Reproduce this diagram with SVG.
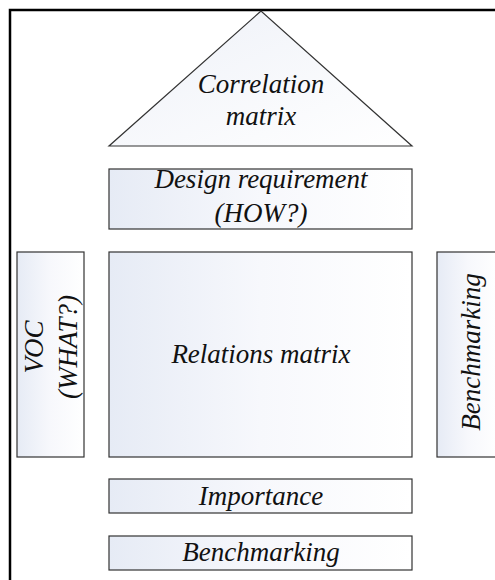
<svg xmlns="http://www.w3.org/2000/svg" width="495" height="580" viewBox="0 0 495 580">
<defs>
<linearGradient id="g" x1="0" y1="0" x2="1" y2="0">
<stop offset="0" stop-color="#e6ebf5"/>
<stop offset="0.5" stop-color="#f7f8fc"/>
<stop offset="1" stop-color="#ffffff"/>
</linearGradient>
<linearGradient id="gt" x1="0" y1="0" x2="1" y2="1">
<stop offset="0" stop-color="#eef1f8"/>
<stop offset="1" stop-color="#ffffff"/>
</linearGradient>
</defs>
<style>
.box{fill:url(#g);stroke:#333;stroke-width:1.2}
.tri{fill:url(#gt);stroke:#333;stroke-width:1.2}
.t{font-style:italic;font-size:27px;fill:#111;text-anchor:middle}
</style>
<rect x="10" y="10" width="495" height="580" fill="#fff" stroke="#000" stroke-width="2.5"/>
<g id="correlation">
<polygon class="tri" points="261,11 109,146 412,146"/>
<text class="t" font-family="Liberation Serif, serif" x="261" y="93">Correlation</text>
<text class="t" font-family="Liberation Serif, serif" x="261" y="125">matrix</text>
</g>
<g id="design">
<rect class="box" x="109" y="169" width="303" height="60"/>
<text class="t" font-family="Liberation Serif, serif" x="261" y="188">Design requirement</text>
<text class="t" font-family="Liberation Serif, serif" x="261" y="222">(HOW?)</text>
</g>
<g id="voc">
<rect class="box" x="17" y="252" width="67" height="205"/>
<text class="t" font-family="Liberation Serif, serif" transform="translate(43,347) rotate(-90)" x="0" y="0">VOC</text>
<text class="t" font-family="Liberation Serif, serif" transform="translate(77,347) rotate(-90)" x="0" y="0">(WHAT?)</text>
</g>
<g id="relations">
<rect class="box" x="109" y="252" width="303" height="205"/>
<text class="t" font-family="Liberation Serif, serif" x="261" y="363">Relations matrix</text>
</g>
<g id="bench-right">
<rect class="box" x="437" y="252" width="62" height="205"/>
<text class="t" font-family="Liberation Serif, serif" transform="translate(480,352) rotate(-90)" x="0" y="0">Benchmarking</text>
</g>
<g id="importance">
<rect class="box" x="109" y="479" width="303" height="34"/>
<text class="t" font-family="Liberation Serif, serif" x="261" y="505">Importance</text>
</g>
<g id="bench-bottom">
<rect class="box" x="109" y="536" width="303" height="34"/>
<text class="t" font-family="Liberation Serif, serif" x="261" y="561">Benchmarking</text>
</g>
<g id="connectors"></g>
</svg>
